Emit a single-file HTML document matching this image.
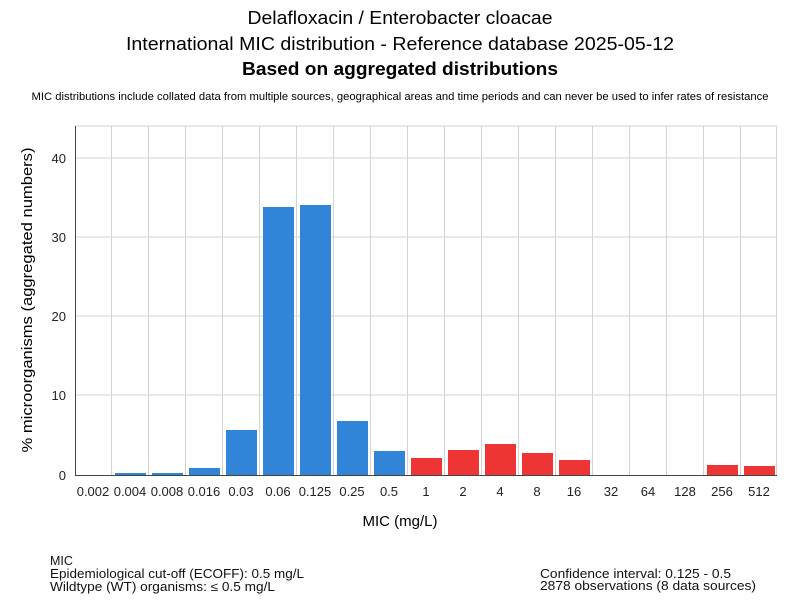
<!DOCTYPE html>
<html><head><meta charset="utf-8"><style>body{margin:0;background:#fff}svg{display:block}</style></head><body>
<svg width="800" height="600" xmlns="http://www.w3.org/2000/svg" font-family="Liberation Sans, sans-serif">
<rect width="800" height="600" fill="#fff"/>
<text x="400" y="24" font-size="18" text-anchor="middle" textLength="305" lengthAdjust="spacingAndGlyphs">Delafloxacin / Enterobacter cloacae</text>
<text x="400" y="50" font-size="18" text-anchor="middle" textLength="548" lengthAdjust="spacingAndGlyphs">International MIC distribution - Reference database 2025-05-12</text>
<text x="400" y="75" font-size="18" font-weight="bold" text-anchor="middle" textLength="316" lengthAdjust="spacingAndGlyphs">Based on aggregated distributions</text>
<text x="400" y="100" font-size="11" text-anchor="middle" textLength="737" lengthAdjust="spacingAndGlyphs">MIC distributions include collated data from multiple sources, geographical areas and time periods and can never be used to infer rates of resistance</text>
<g stroke="#d3d3d3" stroke-width="1">
<line x1="75" y1="126" x2="777" y2="126"/>
<line x1="75" y1="158" x2="777" y2="158"/>
<line x1="75" y1="237" x2="777" y2="237"/>
<line x1="75" y1="316" x2="777" y2="316"/>
<line x1="75" y1="395" x2="777" y2="395"/>
<g id="v"></g>
</g>
<g stroke="#d3d3d3" stroke-width="1">
<line x1="111.5" y1="126" x2="111.5" y2="475"/><line x1="148.5" y1="126" x2="148.5" y2="475"/><line x1="185.5" y1="126" x2="185.5" y2="475"/><line x1="222.5" y1="126" x2="222.5" y2="475"/><line x1="259.5" y1="126" x2="259.5" y2="475"/><line x1="296.5" y1="126" x2="296.5" y2="475"/><line x1="333.5" y1="126" x2="333.5" y2="475"/><line x1="370.5" y1="126" x2="370.5" y2="475"/><line x1="407.5" y1="126" x2="407.5" y2="475"/><line x1="444.5" y1="126" x2="444.5" y2="475"/><line x1="481.5" y1="126" x2="481.5" y2="475"/><line x1="518.5" y1="126" x2="518.5" y2="475"/><line x1="555.5" y1="126" x2="555.5" y2="475"/><line x1="592.5" y1="126" x2="592.5" y2="475"/><line x1="629.5" y1="126" x2="629.5" y2="475"/><line x1="666.5" y1="126" x2="666.5" y2="475"/><line x1="703.5" y1="126" x2="703.5" y2="475"/><line x1="740.5" y1="126" x2="740.5" y2="475"/><line x1="776.5" y1="126" x2="776.5" y2="475"/>
</g>
<g fill="#3085d9">
<rect x="115" y="473" width="31" height="2"/>
<rect x="152" y="473" width="31" height="2"/>
<rect x="189" y="468" width="31" height="7"/>
<rect x="226" y="430" width="31" height="45"/>
<rect x="263" y="207" width="31" height="268"/>
<rect x="300" y="205" width="31" height="270"/>
<rect x="337" y="421" width="31" height="54"/>
<rect x="374" y="451" width="31" height="24"/>
</g>
<g fill="#ee3535">
<rect x="411" y="458" width="31" height="17"/>
<rect x="448" y="450" width="31" height="25"/>
<rect x="485" y="444" width="31" height="31"/>
<rect x="522" y="453" width="31" height="22"/>
<rect x="559" y="460" width="31" height="15"/>
<rect x="707" y="465" width="31" height="10"/>
<rect x="744" y="466" width="31" height="9"/>
</g>
<line x1="75.5" y1="126" x2="75.5" y2="475" stroke="#444"/>
<line x1="75" y1="475.5" x2="777" y2="475.5" stroke="#444"/>
<g font-size="13" text-anchor="end" fill="#222">
<text x="66" y="163">40</text><text x="66" y="242">30</text><text x="66" y="321">20</text><text x="66" y="400">10</text><text x="66" y="480">0</text>
</g>
<g font-size="13" text-anchor="middle" fill="#222">
<text x="93" y="496">0.002</text><text x="130" y="496">0.004</text><text x="167" y="496">0.008</text><text x="204" y="496">0.016</text><text x="241" y="496">0.03</text><text x="278" y="496">0.06</text><text x="315" y="496">0.125</text><text x="352" y="496">0.25</text><text x="389" y="496">0.5</text><text x="426" y="496">1</text><text x="463" y="496">2</text><text x="500" y="496">4</text><text x="537" y="496">8</text><text x="574" y="496">16</text><text x="611" y="496">32</text><text x="648" y="496">64</text><text x="685" y="496">128</text><text x="722" y="496">256</text><text x="759" y="496">512</text>
</g>
<text x="400" y="526" font-size="15" text-anchor="middle">MIC (mg/L)</text>
<text transform="translate(32,300) rotate(-90)" font-size="15" text-anchor="middle" textLength="305" lengthAdjust="spacingAndGlyphs">% microorganisms (aggregated numbers)</text>
<g font-size="12.5" fill="#111">
<text x="50" y="565">MIC</text>
<text x="50" y="578" textLength="254" lengthAdjust="spacingAndGlyphs">Epidemiological cut-off (ECOFF): 0.5 mg/L</text>
<text x="50" y="591" textLength="225" lengthAdjust="spacingAndGlyphs">Wildtype (WT) organisms: ≤ 0.5 mg/L</text>
<text x="540" y="578" textLength="191" lengthAdjust="spacingAndGlyphs">Confidence interval: 0.125 - 0.5</text>
<text x="540" y="590" textLength="216" lengthAdjust="spacingAndGlyphs">2878 observations (8 data sources)</text>
</g>
</svg>
</body></html>
